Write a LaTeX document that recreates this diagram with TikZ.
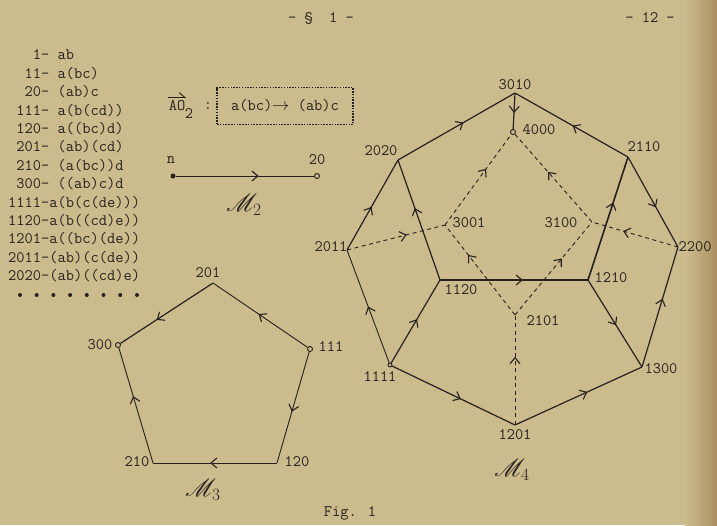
\documentclass[tikz,border=0pt]{standalone}
\usepackage{mathrsfs}
\usetikzlibrary{arrows.meta,decorations.markings,calc}
\definecolor{paper}{RGB}{204,187,140}
\definecolor{paperdark}{RGB}{170,145,95}
\definecolor{ink}{RGB}{38,33,30}
\begin{document}
\begin{tikzpicture}[x=1pt,y=-1pt,
  every node/.style={font=\fontsize{16}{18}\selectfont\ttfamily, text=ink, inner sep=1pt},
  edge/.style={draw=ink, line width=1.2pt},
  thinedge/.style={draw=ink, line width=0.9pt},
  dashedge/.style={draw=ink, line width=0.9pt, dash pattern=on 4pt off 3.5pt},
  arr/.style={postaction={decorate,decoration={markings,mark=at position #1 with {\arrow{Straight Barb[length=6pt,width=10pt,line width=1.1pt]}}}}},
  vtx/.style={circle, inner sep=0pt, minimum size=0pt},
  ring/.style={circle, draw=ink, line width=0.9pt, inner sep=0pt, minimum size=5pt, fill=paper},
  scr/.style={font=\fontsize{26}{28}\selectfont},
  listline/.style={anchor=west}
]
\useasboundingbox (0,0) rectangle (717,525);
\fill[paper] (0,0) rectangle (717,525);
\shade[left color=paper, right color=paperdark] (685,0) rectangle (717,525);

% header
\node (sec) at (321,18) {- \S\ \ 1 -};
\node (page) at (650,18) {- 12 -};

% list
\node[listline] (r1) at (7,55.0) {\hphantom{000}1- ab};
\node[listline] (r2) at (7,73.4) {\hphantom{00}11- a(bc)};
\node[listline] (r3) at (7,91.8) {\hphantom{00}20- (ab)c};
\node[listline] (r4) at (7,110.2) {\hphantom{0}111- a(b(cd))};
\node[listline] (r5) at (7,128.6) {\hphantom{0}120- a((bc)d)};
\node[listline] (r6) at (7,147.0) {\hphantom{0}201- (ab)(cd)};
\node[listline] (r7) at (7,165.4) {\hphantom{0}210- (a(bc))d};
\node[listline] (r8) at (7,183.8) {\hphantom{0}300- ((ab)c)d};
\node[listline] (r9) at (7,202.2) {1111-a(b(c(de)))};
\node[listline] (r10) at (7,220.6) {1120-a(b((cd)e))};
\node[listline] (r11) at (7,239.0) {1201-a((bc)(de))};
\node[listline] (r12) at (7,257.4) {2011-(ab)(c(de))};
\node[listline] (r13) at (7,275.8) {2020-(ab)((cd)e)};
\foreach \xx in {20,36.7,53.4,70.1,86.8,103.5,120.2,137} \fill[ink] (\xx,295) circle (2pt);

% AO_2 box
\node (AO) at (177,106) {AO};
\node (AOsub) at (189,114) {2};
\draw[ink, line width=0.9pt, -{Straight Barb[left,length=6pt,width=10pt]}] ($(AO.north west)+(0,-2)$) -- ($(AO.north east)+(0,-2)$);
\node (colon) at (208,106) {:};
\node[draw=ink, line width=1.7pt, dash pattern=on 1.5pt off 1.3pt, minimum width=136pt, minimum height=37pt] (box) at (285,106) {a(bc)$\to$ (ab)c};

% M2
\node[circle, fill=ink, inner sep=0pt, minimum size=5pt] (n) at (173,176) {};
\node[ring] (v20) at (317,176) {};
\node (nl) at (171,160) {n};
\node (l20) at (317,160) {20};
\draw[thinedge, arr=0.6] (n) -- (v20);
\node[scr] (M2) at (244,205) {$\mathscr{M}_2$};

% M3 pentagon
\node[vtx] (p201) at (213,283) {};
\node[ring] (p300) at (118,345) {};
\node[ring] (p111) at (310,349) {};
\node[vtx] (p210) at (153,463) {};
\node[vtx] (p120) at (277,463) {};
\draw[edge, arr=0.61] (p201) -- (p300);
\draw[thinedge, arr=0.52] (p111) -- (p201);
\draw[thinedge, arr=0.54] (p111) -- (p120);
\draw[thinedge, arr=0.54] (p120) -- (p210);
\draw[thinedge, arr=0.58] (p210) -- (p300);
\node (l201) at (208,273) {201};
\node (l300) at (100,345) {300};
\node (l111) at (331,347) {111};
\node (l210) at (137,462) {210};
\node (l120) at (297,462) {120};
\node[scr] (M3) at (203,490) {$\mathscr{M}_3$};

% M4
\node[vtx] (q3010) at (515,93) {};
\node[ring] (q4000) at (513,132) {};
\node[vtx] (q2020) at (398,160) {};
\node[vtx] (q2110) at (628,157) {};
\node[vtx] (q2011) at (347,250) {};
\node[vtx] (q2200) at (678,247) {};
\node[vtx] (q3001) at (445,225) {};
\node[vtx] (q3100) at (592,222) {};
\node[vtx] (q1120) at (440,280) {};
\node[vtx] (q1210) at (588,280) {};
\node[vtx] (q2101) at (515,315) {};
\node[ring, minimum size=4pt] (q1111) at (390,365) {};
\node[vtx] (q1201) at (515,425) {};
\node[vtx] (q1300) at (642,367) {};

% dashed edges
\draw[dashedge, arr=0.61] (q2011) -- (q3001);
\draw[dashedge, arr=0.62] (q3001) -- (q4000);
\draw[dashedge, arr=0.67] (q2101) -- (q3001);
\draw[dashedge, arr=0.61] (q2101) -- (q3100);
\draw[dashedge, arr=0.57] (q3100) -- (q4000);
\draw[dashedge, arr=0.64] (q2200) -- (q3100);
\draw[dashedge, arr=0.62] (q1201) -- (q2101);

% solid edges
\draw[edge, arr=0.55] (q3010) -- (q4000);
\draw[edge, arr=0.48] (q2011) -- (q2020);
\draw[edge, arr=0.56] (q2020) -- (q3010);
\draw[edge, arr=0.49] (q2110) -- (q3010);
\draw[edge, arr=0.56] (q2110) -- (q2200);
\draw[edge, line width=1.6pt, arr=0.63] (q1210) -- (q2110);
\draw[edge, arr=0.60] (q1120) -- (q2020);
\draw[edge, line width=2pt, arr=0.56] (q1120) -- (q1210);
\draw[thinedge, arr=0.50] (q1111) -- (q2011);
\draw[edge, arr=0.53] (q1111) -- (q1120);
\draw[edge, arr=0.56] (q1111) -- (q1201);
\draw[edge, arr=0.57] (q1201) -- (q1300);
\draw[edge, arr=0.52] (q1210) -- (q1300);
\draw[edge, arr=0.57] (q1300) -- (q2200);

% M4 labels
\node (m3010) at (515,85) {3010};
\node (m4000) at (539,130) {4000};
\node (m2020) at (381,151) {2020};
\node (m2110) at (644,147) {2110};
\node (m2011) at (331,247) {2011};
\node (m2200) at (695,247) {2200};
\node (m3001) at (469,223) {3001};
\node (m3100) at (561,223) {3100};
\node (m1120) at (461,290) {1120};
\node (m1210) at (611,278) {1210};
\node (m2101) at (543,321) {2101};
\node (m1111) at (380,377) {1111};
\node (m1201) at (515,435) {1201};
\node (m1300) at (661,369) {1300};
\node[scr] (M4) at (512,470) {$\mathscr{M}_4$};

% caption
\node (fig) at (350,513) {Fig. 1};
\end{tikzpicture}
\end{document}
